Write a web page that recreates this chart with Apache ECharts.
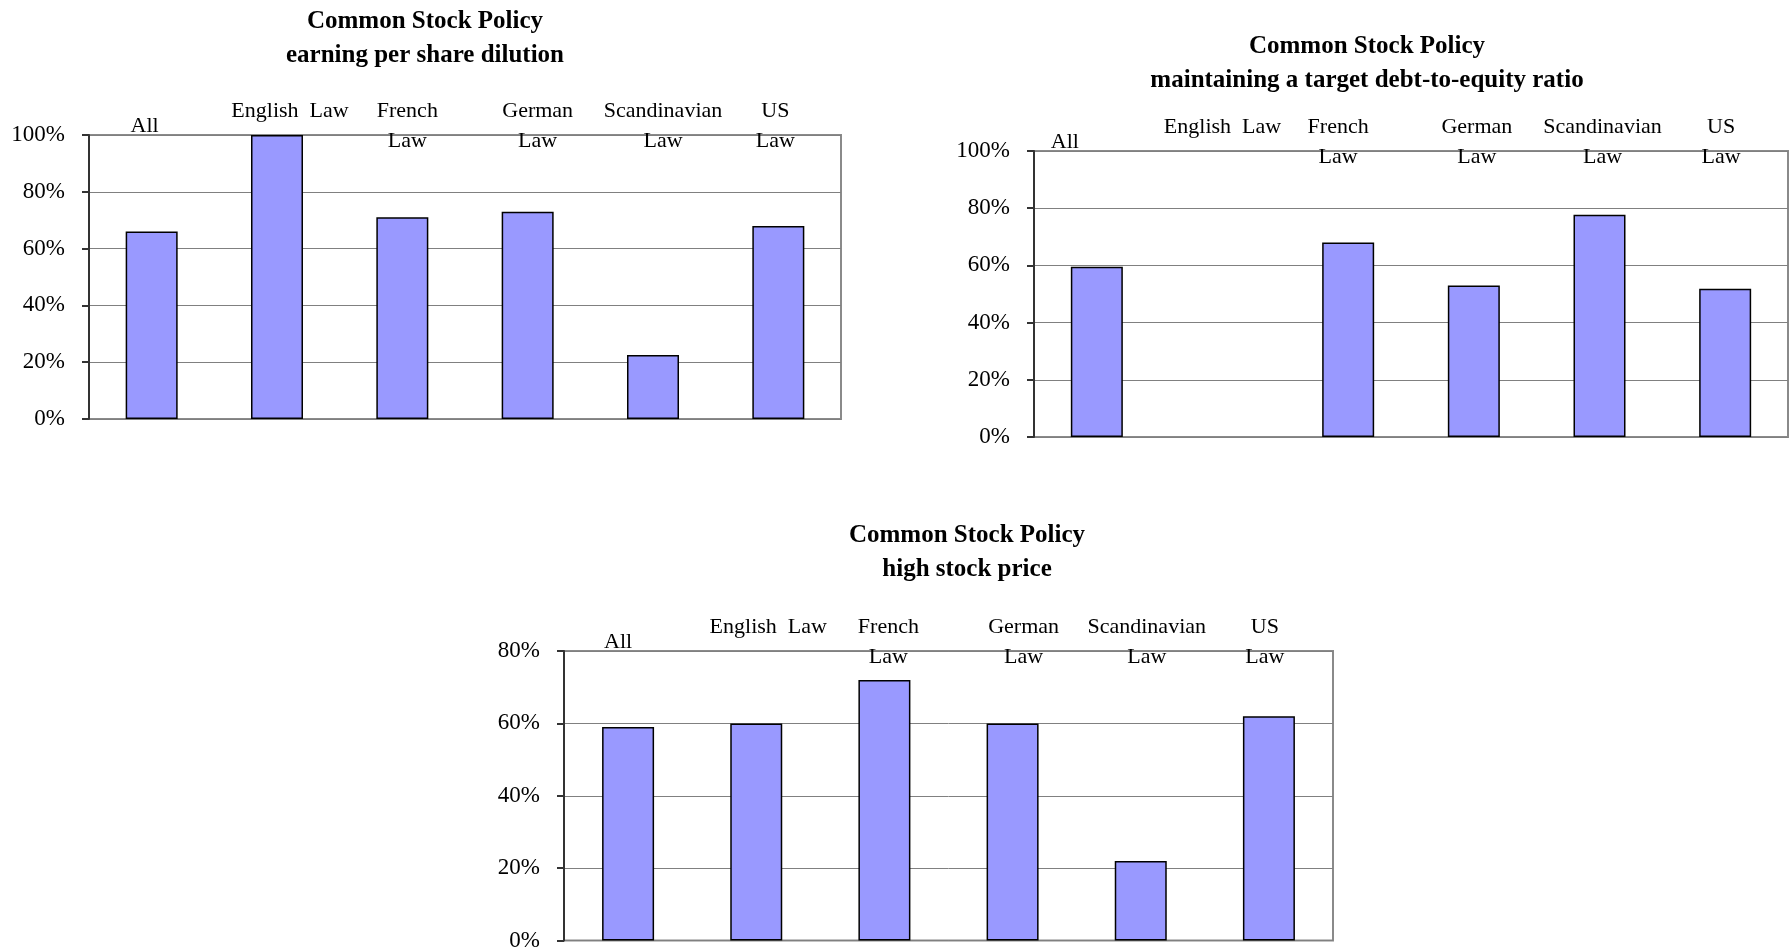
<!DOCTYPE html>
<html>
<head>
<meta charset="utf-8">
<title>Common Stock Policy</title>
<script src="https://cdn.jsdelivr.net/npm/echarts@6/dist/echarts.min.js"></script>
<style>
  html, body { margin: 0; padding: 0; background: #fff; }
  #main { width: 1792px; height: 952px; }
</style>
</head>
<body>
<div id="main"></div>
<script>
// Legal-origin groups shown on every panel (English Law keeps an empty second line)
const categories = ['All', 'English  Law\n', 'French\nLaw', 'German\nLaw', 'Scandinavian\nLaw', 'US\nLaw'];

// Share of firms (%) citing each factor
const epsDilution = [66, 100, 71, 73, 22.5, 68];
const targetDebtEquity = [59.5, null, 68, 53, 77.7, 51.8];
const highStockPrice = [59, 60, 72, 60, 22, 62];

// Panel titles
const titles = [
  'Common Stock Policy\nearning per share dilution',
  'Common Stock Policy\nmaintaining a target debt-to-equity ratio',
  'Common Stock Policy\nhigh stock price'
];

// Value-axis ranges per panel
const yMax = [100, 100, 80];
const yStep = 20;

const FONT = "'Liberation Serif', 'Times New Roman', serif";

const grids = [
  { left: 89, top: 135, width: 752, height: 284 },
  { left: 1034, top: 151, width: 754, height: 286 },
  { left: 564, top: 651, width: 769, height: 290 }
];
const titlePos = [
  { x: 425, top: 5 },
  { x: 1367, top: 30 },
  { x: 967, top: 519 }
];
// horizontal nudge (px) of each category label relative to its bar, per panel
const labelShift = [
  [-7, 13, 5, 10, 10, -3],
  [-32, 0, -10, 3, 3, -4],
  [-10, 12, 4, 11, 6, -4]
];
const seriesData = [epsDilution, targetDebtEquity, highStockPrice];

const labelStyle = {
  fontFamily: FONT,
  fontSize: 22,
  lineHeight: 30,
  color: '#000',
  verticalAlign: 'middle',
  align: 'center'
};

function axisData(panel) {
  return categories.map((c, k) => {
    const dx = labelShift[panel][k];
    const pad = dx >= 0 ? [0, 0, 0, 2 * dx] : [0, -2 * dx, 0, 0];
    return { value: c, textStyle: Object.assign({}, labelStyle, { padding: pad }) };
  });
}

const chart = echarts.init(document.getElementById('main'), null, { renderer: 'canvas' });

const option = {
  backgroundColor: '#ffffff',
  animation: false,
  title: titles.map((t, i) => ({
    text: t,
    left: titlePos[i].x,
    top: titlePos[i].top,
    textAlign: 'center',
    padding: 0,
    textStyle: {
      fontFamily: FONT,
      fontWeight: 'bold',
      fontSize: 25,
      lineHeight: 34,
      color: '#000'
    }
  })),
  grid: grids.map(g => ({
    left: g.left, top: g.top, width: g.width, height: g.height,
    show: true,
    borderColor: '#8a8a8a',
    borderWidth: 2,
    backgroundColor: 'transparent'
  })),
  xAxis: grids.map((g, i) => ({
    type: 'category',
    gridIndex: i,
    position: 'top',
    data: axisData(i),
    axisLine: { show: false },
    axisTick: { show: false },
    splitLine: { show: false },
    axisLabel: Object.assign({ interval: 0, margin: 9 }, labelStyle)
  })),
  yAxis: grids.map((g, i) => ({
    type: 'value',
    gridIndex: i,
    min: 0,
    max: yMax[i],
    interval: yStep,
    axisLine: { show: true, lineStyle: { color: '#333', width: 2 } },
    axisTick: { show: true, inside: false, length: 7, lineStyle: { color: '#333', width: 2 } },
    splitLine: { show: true, lineStyle: { color: '#808080', width: 1 } },
    axisLabel: {
      formatter: '{value}%',
      margin: 24,
      fontFamily: FONT,
      fontSize: 23,
      color: '#000'
    }
  })),
  series: seriesData.map((d, i) => ({
    type: 'bar',
    xAxisIndex: i,
    yAxisIndex: i,
    data: d,
    barWidth: 52,
    itemStyle: {
      color: '#9999ff',
      borderColor: '#000',
      borderWidth: 1.5
    }
  }))
};

chart.setOption(option);
</script>
</body>
</html>
